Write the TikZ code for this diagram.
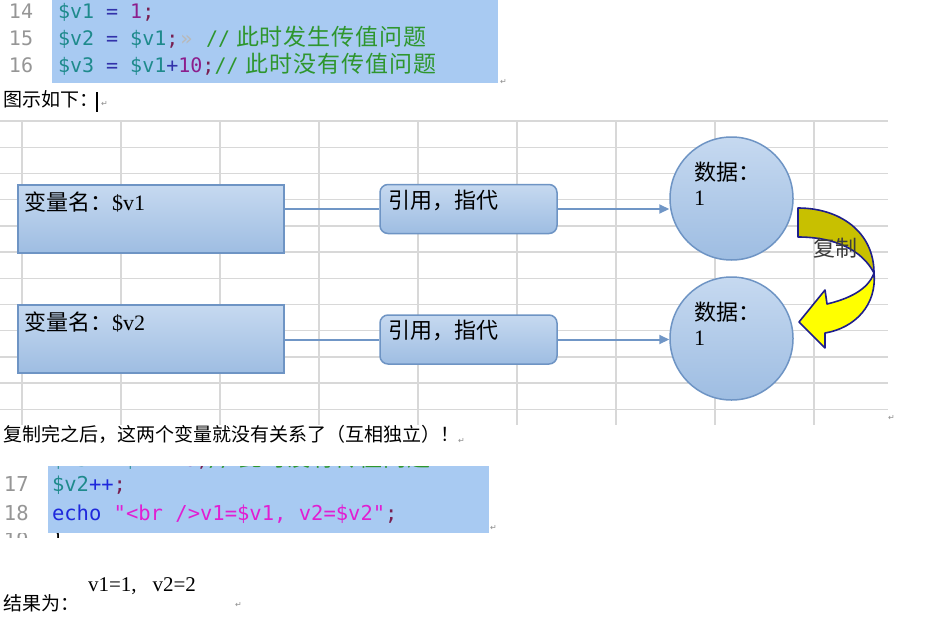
\documentclass[tikz,border=0pt]{standalone}
\usepackage{fontspec}
\setmainfont{Liberation Serif}
\newfontfamily\cjk{Noto Sans CJK SC}
\newfontfamily\cjkcode[LetterSpace=4]{Noto Sans CJK SC}
\newfontfamily\codefont{DejaVu Sans Mono}
\newfontfamily\symfont{DejaVu Sans}
\usetikzlibrary{arrows.meta}
\definecolor{codebg}{RGB}{168,202,242}
\definecolor{lnum}{RGB}{150,150,150}
\definecolor{cteal}{RGB}{30,138,140}
\definecolor{cop}{RGB}{50,50,170}
\definecolor{cnum}{RGB}{140,30,140}
\definecolor{csemi}{RGB}{120,30,80}
\definecolor{ccom}{RGB}{46,150,46}
\definecolor{ctab}{RGB}{185,185,185}
\definecolor{cblue}{RGB}{30,40,220}
\definecolor{cstr}{RGB}{225,30,210}
\definecolor{gridc}{RGB}{216,216,216}
\definecolor{boxborder}{RGB}{110,148,196}
\definecolor{boxtop}{RGB}{198,217,240}
\definecolor{boxbot}{RGB}{158,189,226}
\definecolor{linkc}{RGB}{112,150,198}
\definecolor{ydark}{RGB}{200,192,0}
\definecolor{ybright}{RGB}{255,255,0}
\definecolor{ynavy}{RGB}{30,30,140}
\definecolor{retc}{RGB}{140,140,140}
\newcommand\cfs{\codefont\fontsize{20}{24}\selectfont}
\newcommand\cfb{\codefont\fontsize{20.5}{24}\selectfont}
\newcommand\ccjk{\cjkcode\fontsize{23}{24}\selectfont}
\newcommand\bodyfs{\cjk\fontsize{19}{22}\selectfont}
\newcommand\diafs{\fontsize{22}{26}\selectfont}
\tikzset{
  txt/.style={anchor=base west, inner sep=0pt, outer sep=0pt},
  retmark/.style={anchor=base west, inner sep=0pt, text=retc, font=\symfont\fontsize{8}{8}\selectfont},
  gridline/.style={draw=gridc, line width=1.4pt},
  varbox/.style={draw=boxborder, line width=1.5pt, top color=boxtop, bottom color=boxbot, minimum width=266, minimum height=68, inner sep=0pt},
  refbox/.style={draw=boxborder, line width=1.5pt, top color=boxtop, bottom color=boxbot, minimum width=177, minimum height=49, rounded corners=8pt, inner sep=0pt},
  databall/.style={circle, draw=boxborder, line width=1.5pt, top color=boxtop, bottom color=boxbot, minimum size=123, inner sep=0pt},
  link/.style={draw=linkc, line width=2pt},
  linkarrow/.style={link, -{Triangle[length=10pt,width=9pt]}},
  copyarrow/.style={draw=ynavy, line width=1.6pt, line join=round}
}
\begin{document}
\begin{tikzpicture}[x=1pt,y=-1pt]
\useasboundingbox (0,0) rectangle (925,616);
\fill[white] (0,0) rectangle (925,616);

% ---------- top code block ----------
\fill[codebg] (52,0) rectangle (498,83);
\node[txt] (n14) at (9,18) {\cfs\color{lnum}14};
\node[txt] (n15) at (9,45) {\cfs\color{lnum}15};
\node[txt] (n16) at (9,72) {\cfs\color{lnum}16};
\node[txt] (l14) at (58,18) {\cfs\textcolor{cteal}{\$v1} \textcolor{cop}{=} \textcolor{cnum}{1}\textcolor{csemi}{;}};
\node[txt] (l15) at (58,45) {\cfs\textcolor{cteal}{\$v2} \textcolor{cop}{=} \textcolor{cteal}{\$v1}\textcolor{csemi}{;}\hspace{2pt}\textcolor{ctab}{»}};
\node[txt] (c15) at (206,45) {\cfs\color{ccom}//\hspace{6pt}{\ccjk 此时发生传值问题}};
\node[txt] (l16) at (58,72) {\cfs\textcolor{cteal}{\$v3} \textcolor{cop}{=} \textcolor{cteal}{\$v1}\textcolor{cop}{+}\textcolor{cnum}{10}\textcolor{csemi}{;}\textcolor{ccom}{//\hspace{7pt}{\ccjk 此时没有传值问题}}};
\node[retmark] (r0) at (500,84) {↵};

% ---------- caption ----------
\node[txt] (cap1) at (3,106) {\bodyfs 图示如下：};
\draw[black, line width=2pt] (97,92) -- (97,112);
\node[retmark] (r1m) at (101,106) {↵};

% ---------- grid ----------
\foreach \k in {0,...,11} \draw[gridline] (0,121+26.2*\k) -- (888,121+26.2*\k);
\foreach \x in {22,121,220,319,418,517,616,715,814} \draw[gridline] (\x,121) -- (\x,425);
\node[retmark] (r2m) at (888,420) {↵};

% ---------- diagram ----------
\node[varbox] (v1box) at (151,219) {};
\node[varbox] (v2box) at (151,339) {};
\node[refbox] (r1) at (468.5,209) {};
\node[refbox] (r2) at (468.5,339.5) {};
\node[databall] (c1) at (731.5,198.5) {};
\node[databall] (c2) at (731.5,338.5) {};

\node[txt] (t1) at (24,210) {\diafs{\cjk 变量名：}\$v1};
\node[txt] (t2) at (24,330) {\diafs{\cjk 变量名：}\$v2};
\node[txt] (t3) at (388,208) {\diafs\cjk 引用，指代};
\node[txt] (t4) at (388,338) {\diafs\cjk 引用，指代};
\node[txt] (t5) at (694,180) {\diafs\cjk 数据：};
\node[txt] (t6) at (694,205) {\diafs 1};
\node[txt] (t7) at (694,320) {\diafs\cjk 数据：};
\node[txt] (t8) at (694,345) {\diafs 1};

\draw[link] (v1box.east |- r1.west) -- (r1.west);
\draw[link] (v2box.east |- r2.west) -- (r2.west);
\draw[linkarrow] (r1.east) -- (r1.east -| c1.west);
\draw[linkarrow] (r2.east) -- (r2.east -| c2.west);

% copy arrow
\filldraw[copyarrow, fill=ydark] (798,208) .. controls (840,208) and (874,232) .. (874,273)
   .. controls (862,250) and (835,237) .. (798,237) -- cycle;
\filldraw[copyarrow, fill=ybright] (874,273) .. controls (877,305) and (855,328) .. (825,333)
   -- (825,348) -- (799,322) -- (825,290) -- (827,304)
   .. controls (848,299) and (868,290) .. (874,273) -- cycle;
\node[txt, text={rgb,255:red,60;green,60;blue,60}] (cp) at (813,256) {\diafs\cjk 复制};

% ---------- sentence ----------
\node[txt] (s1) at (3,441) {\bodyfs 复制完之后，这两个变量就没有关系了（互相独立）！};
\node[retmark] (r3m) at (458,443) {↵};

% ---------- bottom code block ----------
\fill[codebg] (48,466) rectangle (489,533);
\begin{scope}
\clip (48,466) rectangle (489,533);
\node[txt] (l16b) at (52,466) {\cfs\textcolor{cteal}{\$v3} \textcolor{cop}{=} \textcolor{cteal}{\$v1}\textcolor{cop}{+}\textcolor{cnum}{10}\textcolor{csemi}{;}\textcolor{ccom}{//\hspace{7pt}{\ccjk 此时没有传值问题}}};
\end{scope}
\node[txt] (n17) at (4,491) {\cfb\color{lnum}17};
\node[txt] (n18) at (4,520) {\cfb\color{lnum}18};
\node[txt] (l17) at (52,491) {\cfb\textcolor{cteal}{\$v2}\textcolor{cblue}{++}\textcolor{csemi}{;}};
\node[txt] (l18) at (52,520) {\cfb\textcolor{cblue}{echo} \textcolor{cstr}{"<br />v1=\$v1, v2=\$v2"}\textcolor{csemi}{;}};
\begin{scope}
\clip (0,533) rectangle (489,537);
\node[txt] (n19) at (4,547) {\cfb\color{lnum}19};
\node[txt] (l19) at (52,547) {\cfb\color{black}\}};
\end{scope}
\node[retmark] (r4m) at (490,530) {↵};

% ---------- result ----------
\node[txt] (res) at (3,610) {\bodyfs 结果为：};
\node[txt] (resv) at (88,591) {\fontsize{21}{24}\selectfont v1=1,\hspace{16pt}v2=2};
\node[retmark] (r5m) at (235,607) {↵};
\end{tikzpicture}
\end{document}
